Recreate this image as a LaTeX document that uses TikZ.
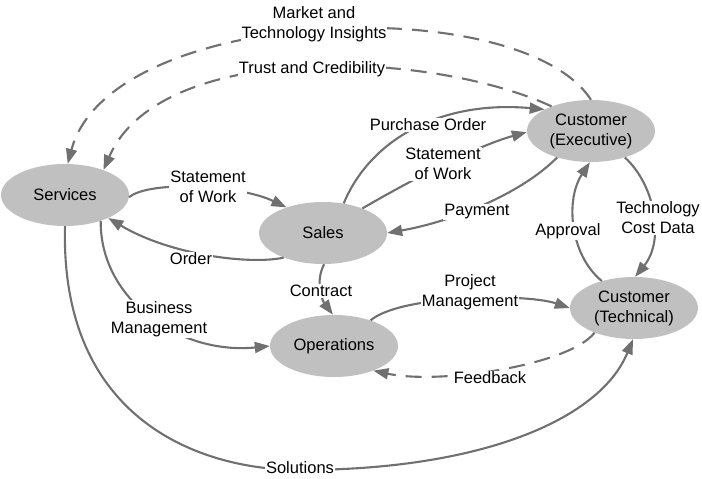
\documentclass[tikz,border=0pt]{standalone}
\usepackage{fontspec}
\setmainfont{Liberation Sans}
\usepackage{xcolor}
\usepackage{tikz}
\usetikzlibrary{shapes,arrows.meta,positioning}
\definecolor{nodegray}{HTML}{C0C0C0}
\definecolor{linegray}{HTML}{707070}

\begin{document}
\begin{tikzpicture}[
        x=1pt, y=-1pt,
        party/.style={
            ellipse, fill=nodegray, draw=none,
            minimum width=128pt, minimum height=62pt,
            font=\fontsize{16.5}{20}\selectfont, align=center,
            inner sep=0pt
          },
        flow/.style={-{Triangle[length=15pt,width=11pt]}, line width=2.1pt, draw=linegray},
        softflow/.style={flow, dash pattern=on 16pt off 10pt},
        flowtext/.style={font=\fontsize{16.5}{20}\selectfont, fill=white, inner sep=1pt, align=center},
      ]
      \useasboundingbox (0,0) rectangle (702,479);

      % Parties
      \node [party] (services) at (65, 195) {Services};
      \node [party] (sales) at (323, 233) {Sales};
      \node [party] (cexec) at (591, 131) {Customer\\(Executive)};
      \node [party] (ctech) at (634, 308) {Customer\\(Technical)};
      \node [party] (ops) at (334, 346) {Operations};

      % Dashed flows back to services
      \draw [softflow] (cexec.90) .. controls (520, -10) and (110, 5) .. (services.85);
      \draw [softflow] (cexec.148) .. controls (430, 50) and (160, 40) .. (services.33);
      \draw [softflow] (ctech.212) .. controls (570, 365) and (440, 385) .. (ops.-32);

      % Sales flows
      \draw [flow] (sales.55) .. controls (370, 140) and (440, 100) .. (cexec.155);
      \draw [flow] (sales.32) .. controls (420, 175) and (480, 145) .. (cexec.181);
      \draw [flow] (cexec.218) .. controls (520, 195) and (450, 222) .. (sales.0);
      \draw [flow] (services.-2) .. controls (150, 180) and (240, 185) .. (sales.145);
      \draw [flow] (sales.212) .. controls (250, 265) and (170, 255) .. (services.-28);
      \draw [flow] (sales.-88) .. controls (315, 282) and (322, 300) .. (ops.92);

      % Operations and customer flows
      \draw [flow] (services.-36) .. controls (100, 300) and (180, 355) .. (ops.180);
      \draw [flow] (ops.35) .. controls (400, 295) and (525, 293) .. (ctech.180);
      \draw [flow] (ctech.140) .. controls (570, 255) and (565, 200) .. (cexec.-92);
      \draw [flow] (cexec.-38) .. controls (655, 185) and (665, 240) .. (ctech.88);
      \draw [flow] (services.-90) .. controls (60, 420) and (200, 470) .. (300, 470)
                                  .. controls (480, 470) and (600, 420) .. (ctech.-92);

      % Labels
      \node [flowtext] (tinsight) at (314, 24) {Market and\\Technology Insights};
      \node [flowtext] (ttrust) at (312, 69) {Trust and Credibility};
      \node [flowtext] (tpo) at (428, 125) {Purchase Order};
      \node [flowtext] (tsowexec) at (443, 164) {Statement\\of Work};
      \node [flowtext] (tpay) at (477, 212) {Payment};
      \node [flowtext] (tsowsales) at (208, 187) {Statement\\of Work};
      \node [flowtext] (torder) at (191, 259) {Order};
      \node [flowtext] (tcontract) at (321, 291) {Contract};
      \node [flowtext] (tbusiness) at (159, 319) {Business\\Management};
      \node [flowtext] (tproject) at (470, 292) {Project\\Management};
      \node [flowtext] (tfeedback) at (490, 378) {Feedback};
      \node [flowtext] (tsolutions) at (300, 468) {Solutions};
      \node [flowtext] (tapproval) at (568, 231) {Approval};
      \node [flowtext] (tcost) at (658, 218) {Technology\\Cost Data};
    \end{tikzpicture}
\end{document}
